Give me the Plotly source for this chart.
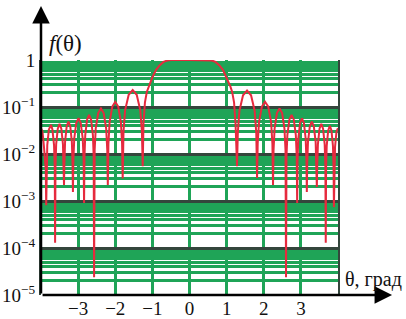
import numpy as np
import plotly.graph_objects as go

# angle, degrees (left to right, one lobe per line)
theta_deg = [
    -4.000, -3.960, -3.920, -3.872, -3.860,
    -3.850, -3.831, -3.788, -3.730, -3.692, -3.649, -3.630, -3.620,
    -3.610, -3.591, -3.548, -3.500, -3.452, -3.409, -3.390, -3.380,
    -3.370, -3.351, -3.308, -3.260, -3.212, -3.169, -3.150, -3.140,
    -3.128, -3.104, -3.050, -2.990, -2.930, -2.876, -2.852, -2.840,
    -2.829, -2.808, -2.759, -2.705, -2.651, -2.602, -2.581, -2.570,
    -2.555, -2.526, -2.459, -2.385, -2.311, -2.244, -2.215, -2.200,
    -2.184, -2.152, -2.080, -2.000, -1.920, -1.848, -1.816, -1.800,
    -1.778, -1.735, -1.638, -1.530, -1.422, -1.325, -1.282, -1.260,
    -1.240, -1.200, -1.150, -1.100, -1.050, -1.000, -0.900, -0.800, -0.700, -0.600, -0.500,
    0.000,
    0.500, 0.600, 0.700, 0.800, 0.900, 1.000, 1.050, 1.100, 1.150, 1.200, 1.240, 1.280,
    1.302, 1.345, 1.442, 1.550, 1.658, 1.755, 1.798, 1.820,
    1.837, 1.872, 1.949, 2.035, 2.121, 2.198, 2.233, 2.250,
    2.264, 2.292, 2.355, 2.425, 2.495, 2.558, 2.586, 2.600,
    2.612, 2.636, 2.690, 2.750, 2.810, 2.864, 2.888, 2.900,
    2.910, 2.931, 2.978, 3.030, 3.082, 3.129, 3.150, 3.160,
    3.171, 3.192, 3.241, 3.295, 3.349, 3.398, 3.419, 3.430,
    3.440, 3.459, 3.502, 3.550, 3.598, 3.641, 3.660, 3.670,
    3.679, 3.696, 3.736, 3.780, 3.824, 3.864, 3.881, 3.890,
    3.902, 3.920, 3.960, 4.000,
]

# pattern level f(theta), as log10 values
f_log10 = [
    -1.45, -1.52, -1.85, -2.32, -3.09,
    -2.27, -1.81, -1.48, -1.38, -1.48, -1.81, -2.27, -3.89,
    -2.25, -1.79, -1.46, -1.36, -1.46, -1.79, -2.25, -2.66,
    -2.20, -1.74, -1.41, -1.31, -1.41, -1.74, -2.20, -2.81,
    -2.13, -1.67, -1.34, -1.24, -1.34, -1.67, -2.13, -3.04,
    -2.06, -1.60, -1.27, -1.17, -1.27, -1.60, -2.06, -4.62,
    -1.92, -1.46, -1.13, -1.03, -1.13, -1.46, -1.92, -2.66,
    -1.78, -1.32, -0.99, -0.89, -0.99, -1.32, -1.78, -2.52,
    -1.53, -1.07, -0.74, -0.64, -0.74, -1.07, -1.53, -2.26,
    -1.35, -0.90, -0.68, -0.56, -0.47, -0.37, -0.21, -0.11, -0.04, -0.01, 0.00,
    0.00,
    0.00, -0.01, -0.04, -0.11, -0.21, -0.37, -0.47, -0.56, -0.68, -0.90, -1.35, -2.26,
    -1.54, -1.08, -0.75, -0.65, -0.75, -1.08, -1.54, -2.51,
    -1.78, -1.32, -0.99, -0.89, -0.99, -1.32, -1.78, -2.66,
    -1.92, -1.46, -1.13, -1.03, -1.13, -1.46, -1.92, -4.62,
    -2.06, -1.60, -1.27, -1.17, -1.27, -1.60, -2.06, -3.04,
    -2.13, -1.67, -1.34, -1.24, -1.34, -1.67, -2.13, -2.81,
    -2.20, -1.74, -1.41, -1.31, -1.41, -1.74, -2.20, -2.70,
    -2.25, -1.79, -1.46, -1.36, -1.46, -1.79, -2.25, -3.89,
    -2.29, -1.83, -1.50, -1.40, -1.50, -1.83, -2.29, -3.13,
    -2.32, -1.85, -1.52, -1.45,
]

x_tick_vals = [-3, -2, -1, 0, 1, 2, 3, 4]
x_tick_text = ["\u22123", "\u22122", "\u22121", "0", "1", "2", "3", ""]
y_tick_vals = [1, 1e-1, 1e-2, 1e-3, 1e-4, 1e-5]
y_tick_text = ["1", "10<sup>\u22121</sup>", "10<sup>\u22122</sup>",
               "10<sup>\u22123</sup>", "10<sup>\u22124</sup>", "10<sup>\u22125</sup>"]

f_vals = 10 ** np.array(f_log10)

GREEN = "#1fa457"
DARK = "#34463c"
FONT = "Liberation Serif"

fig = go.Figure()
fig.add_trace(go.Scatter(
    x=theta_deg, y=f_vals, mode="lines",
    line=dict(color="#e62a3e", width=2),
    showlegend=False, hoverinfo="skip",
))

fig.update_layout(
    width=406, height=319,
    margin=dict(l=41, r=68, t=60, b=24, autoexpand=False),
    paper_bgcolor="white", plot_bgcolor="white",
    font=dict(family=FONT, size=18, color="#111"),
    xaxis=dict(
        range=[-4, 4], tickvals=x_tick_vals, ticktext=x_tick_text,
        showgrid=True, gridcolor=GREEN, gridwidth=2.5,
        zeroline=False, showline=False, ticks="", automargin=False,
        tickfont=dict(family=FONT, size=19, color="#111"),
    ),
    yaxis=dict(
        type="log", range=[-5, 0],
        tickvals=y_tick_vals, ticktext=y_tick_text,
        showgrid=True, gridcolor=DARK, gridwidth=3,
        minor=dict(dtick="D1", showgrid=True, gridcolor=GREEN, gridwidth=2.5, ticks=""),
        zeroline=False, showline=True, mirror=True, linecolor=DARK, linewidth=2,
        ticks="", automargin=False,
        tickfont=dict(family=FONT, size=19, color="#111"),
    ),
)

# axis arrows
fig.add_annotation(xref="paper", yref="paper", x=1.182, y=0, ax=-351, ay=0,
                   axref="pixel", ayref="pixel", text="", showarrow=True,
                   arrowhead=2, arrowsize=1.4, arrowwidth=2.5, arrowcolor="#000")
fig.add_annotation(xref="paper", yref="paper", x=0, y=1.23, ax=0, ay=289,
                   axref="pixel", ayref="pixel", text="", showarrow=True,
                   arrowhead=2, arrowsize=1.4, arrowwidth=2.5, arrowcolor="#000")

# axis titles
fig.add_annotation(xref="paper", yref="paper", x=0.084, y=1.072,
                   xanchor="center", yanchor="middle",
                   text="<i>f</i>(\u03b8)", showarrow=False,
                   font=dict(family=FONT, size=23, color="#111"))
fig.add_annotation(xref="paper", yref="paper", x=1.118, y=0.064,
                   xanchor="center", yanchor="middle",
                   text="\u03b8, \u0433\u0440\u0430\u0434", showarrow=False,
                   font=dict(family=FONT, size=20, color="#111"))

fig.write_html("out.html", config={"displayModeBar": False},
               post_script="document.body.style.margin='0';document.body.style.overflow='hidden';")
